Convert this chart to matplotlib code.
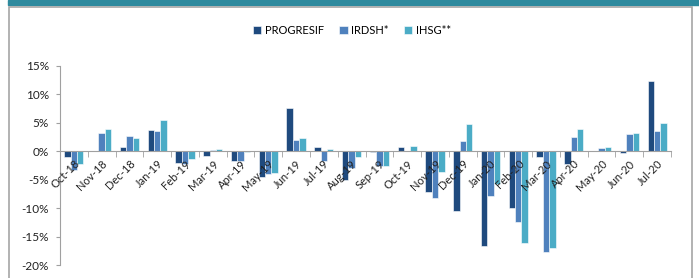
import numpy as np
import matplotlib
matplotlib.use('Agg')
import matplotlib.pyplot as plt
from matplotlib.patches import Rectangle
from matplotlib.ticker import FuncFormatter, FixedLocator
from matplotlib.transforms import ScaledTranslation

plt.rcParams['font.family'] = ['Lato', 'DejaVu Sans']

months = ['Oct-18', 'Nov-18', 'Dec-18', 'Jan-19', 'Feb-19', 'Mar-19', 'Apr-19',
          'May-19', 'Jun-19', 'Jul-19', 'Aug-19', 'Sep-19', 'Oct-19', 'Nov-19',
          'Dec-19', 'Jan-20', 'Feb-20', 'Mar-20', 'Apr-20', 'May-20', 'Jun-20', 'Jul-20']
progresif = [-1.0, 0.0, 0.8, 3.7, -2.0, -0.8, -1.8, -4.6, 7.5, 0.7, -5.1, -0.1,
             0.8, -7.1, -10.6, -16.6, -10.0, -1.1, -2.2, 0.0, -0.35, 12.3]
irdsh = [-3.3, 3.1, 2.6, 3.6, -2.3, 0.2, -1.7, -4.0, 2.0, -1.8, -3.0, -2.6,
         0.0, -8.2, 1.8, -7.9, -12.4, -17.8, 2.5, 0.6, 3.0, 3.5]
ihsg = [-2.3, 3.9, 2.3, 5.5, -1.4, 0.3, -0.1, -3.9, 2.3, 0.4, -1.1, -2.6,
        0.9, -3.6, 4.7, -5.7, -16.2, -17.0, 3.8, 0.7, 3.1, 5.0]

series = [('PROGRESIF', progresif, '#1f4a7e'),
          ('IRDSH*', irdsh, '#4f81bd'),
          ('IHSG**', ihsg, '#4bacc6')]

fig = plt.figure(figsize=(6.99, 2.78), dpi=100)

# top band and frame
fig.patches.append(Rectangle((8 / 699, 1 - 5 / 278), 691 / 699, 5 / 278,
                             transform=fig.transFigure, color='#2e8a9e', zorder=0))
fig.patches.append(Rectangle((9 / 699, -0.01), (692 - 9) / 699, 1 - 7 / 278 + 0.01,
                             transform=fig.transFigure, fill=False,
                             edgecolor='#a6a6a6', linewidth=1.2, zorder=0))

ax = fig.add_axes([60 / 699, 1 - 265 / 278, 611 / 699, (265 - 65.7) / 278])
ax.set_axisbelow(False)

x = np.arange(len(months))
w = 0.23
for i, (name, vals, col) in enumerate(series):
    ax.bar(x + (i - 1) * w, vals, w, color=col, edgecolor='white',
           linewidth=0.4, label=name, zorder=1)

ax.set_xlim(-0.5, len(months) - 0.5)
ax.set_ylim(-20, 15)
ax.set_yticks(np.arange(-20, 16, 5))
ax.yaxis.set_major_formatter(FuncFormatter(lambda v, p: '%d%%' % v))

for s in ['top', 'right']:
    ax.spines[s].set_visible(False)
ax.spines['left'].set_color('#a0a0a0')
ax.spines['bottom'].set_color('#a0a0a0')
ax.spines['bottom'].set_position(('data', 0))
ax.spines['bottom'].set_zorder(3)

ax.set_xticks(x)
ax.set_xticklabels(months, rotation=45, ha='right', va='top', rotation_mode='anchor')
shift = ScaledTranslation(-4 / 100, 0, fig.dpi_scale_trans)
for lab in ax.get_xticklabels():
    lab.set_transform(lab.get_transform() + shift)
ax.xaxis.set_minor_locator(FixedLocator(np.arange(-0.5, len(months), 1)))
ax.tick_params(axis='x', which='major', length=0, pad=5, labelsize=8, labelcolor='#222222')
ax.tick_params(axis='x', which='minor', length=4, color='#a0a0a0', direction='out')
ax.tick_params(axis='y', length=3, color='#a0a0a0', labelsize=8.5, labelcolor='#222222', pad=5)

fig.legend(loc='center', bbox_to_anchor=(352 / 699, 1 - 30 / 278), ncol=3,
           frameon=False, fontsize=8, handlelength=0.75, handleheight=0.75,
           handletextpad=0.3, columnspacing=1.4)

fig.savefig('out.png', dpi=100)
